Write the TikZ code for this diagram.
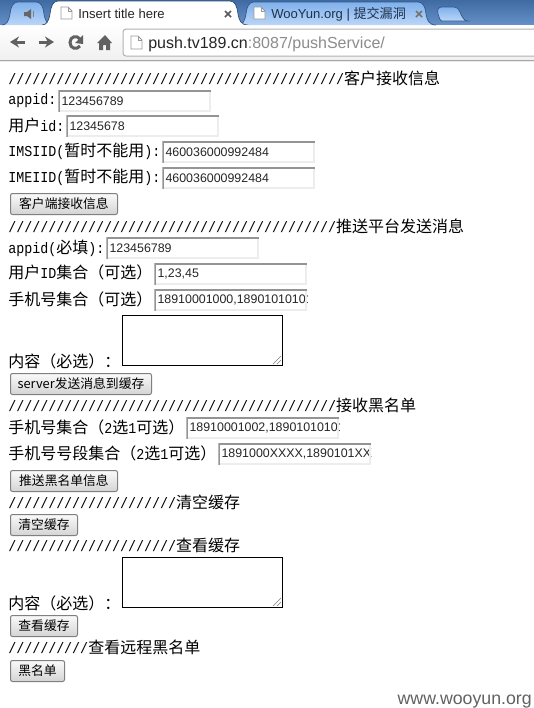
\documentclass[tikz,border=0pt]{standalone}
\usepackage{fontspec}
\setmainfont[FakeStretch=0.88]{Liberation Mono}
\newfontfamily\zhfam{Noto Sans CJK SC}
\newfontfamily\ui{Liberation Sans}
\newcommand{\zhtext}[1]{{\zhfam\fontsize{12}{14}\selectfont #1}}
\usetikzlibrary{arrows.meta,positioning}
\def\px{0.75pt}
\definecolor{stripblue}{HTML}{4A7DBF}
\definecolor{tabtop}{HTML}{7FB0EC}
\definecolor{tabbottom}{HTML}{BBD6F7}
\begin{document}
\begin{tikzpicture}[x=0.75pt,y=-0.75pt,
  lab/.style={anchor=base west,inner sep=0pt,font=\fontsize{11.36}{13}\selectfont},
  head/.style={lab},
  field/.style={anchor=north west,inner sep=0pt,minimum width=153*\px,minimum height=22*\px,fill=white,
    path picture={
      \node[anchor=west,inner sep=0pt,minimum width=0pt,minimum height=0pt,xshift=3*\px,font=\ui\fontsize{9.3}{11}\selectfont,text=black!85] (fieldtext) at (path picture bounding box.west) {#1};
      \draw[black!7,line width=2*\px] ([shift={(1,-1)}]path picture bounding box.south west) -- ([shift={(-1,-1)}]path picture bounding box.south east) -- ([shift={(-1,1)}]path picture bounding box.north east);
      \draw[black!42,line width=3.2*\px] (path picture bounding box.south west) -- (path picture bounding box.north west) -- (path picture bounding box.north east);}},
  area/.style={anchor=north west,draw=black,line width=1*\px,fill=white,inner sep=0pt,minimum width=160*\px,minimum height=50*\px},
  grip/.style={black!50,line width=0.6*\px},
  btn/.style={anchor=north west,draw=black!50,line width=1*\px,rounded corners=2*\px,inner sep=0pt,minimum height=21*\px,
    top color=black!2,bottom color=black!17,font=\zhfam\fontsize{9.6}{11}\selectfont},
  tabtext/.style={anchor=base west,inner sep=0pt,font=\ui\fontsize{9.8}{12}\selectfont},
  nav/.style={black!62,line width=3*\px},
  closex/.style={black!65,line width=1.6*\px},
  pageicon/.style={draw=black!40,fill=white,line width=0.8*\px},
  backtab/.style={stripblue!70!black,top color=tabtop,bottom color=tabbottom,line width=0.7*\px}]
\useasboundingbox (0,0) rectangle (534,708);
% browser frame
\shade[top color=stripblue!85!black,bottom color=stripblue!85] (0,0) rectangle (534,25);
\shade[top color=white,bottom color=black!6] (0,25) rectangle (534,60);
\draw[black!35,line width=1*\px] (0,60.5) -- (534,60.5);
\fill[black!8] (0,61) rectangle (534,62);
% tabs
\draw[backtab] (2,25) .. controls (7,25) and (9,20) .. (10,14) .. controls (11,6) and (13,2) .. (18,2) -- (36,2) .. controls (41,2) and (43,6) .. (44,14) .. controls (45,20) and (47,25) .. (52,25);
\draw[backtab] (238,25) .. controls (243,25) and (245,20) .. (246,14) .. controls (247,6) and (249,2) .. (254,2) -- (418,2) .. controls (423,2) and (425,6) .. (426,14) .. controls (427,20) and (429,25) .. (436,25);
\draw[backtab] (442,21) -- (468,21) .. controls (464,21) and (462,17) .. (460,12) .. controls (459,9) and (457,7) .. (454,7) -- (442,7) .. controls (438,7) and (437,10) .. (438,14) .. controls (439,17) and (440,21) .. (442,21);
\draw[stripblue!60!black,fill=white,line width=0.7*\px] (42,25) .. controls (47,25) and (49,20) .. (50,14) .. controls (51,6) and (53,1) .. (58,1) -- (230,1) .. controls (235,1) and (237,6) .. (238,14) .. controls (239,20) and (241,25) .. (248,25);
\fill[white] (42,25) rectangle (248,26);
% speaker on the first tab
\fill[black!60] (24,12) -- (27,12) -- (31,9) -- (31,19) -- (27,16) -- (24,16) -- cycle;
\draw[black!50,line width=0.8*\px] (33,11) -- (33,17);
% page icons and tab titles
\draw[pageicon] (61,7) -- (68,7) -- (72,11) -- (72,19) -- (61,19) -- cycle;
\draw[black!40,line width=0.8*\px] (68,7) -- (68,11) -- (72,11);
\node[tabtext,text=black!85] (title) at (78,18) {Insert title here};
\draw[closex] (225,11) -- (231,17) (231,11) -- (225,17);
\draw[pageicon] (254,7) -- (261,7) -- (265,11) -- (265,19) -- (254,19) -- cycle;
\draw[black!40,line width=0.8*\px] (261,7) -- (261,11) -- (265,11);
\begin{scope}
\clip (270,0) rectangle (408,25);
\node[tabtext,text=black!60!stripblue] (other) at (271,18) {WooYun.org | {\zhfam 提交漏洞}};
\end{scope}
\draw[closex,black!55] (416,11) -- (422,17) (422,11) -- (416,17);
% toolbar
\draw[nav,-{Stealth[length=9*\px,width=11*\px]}] (25,42) -- (10,42);
\draw[nav,-{Stealth[length=9*\px,width=11*\px]}] (39,42) -- (54,42);
\draw[nav] (80,46) .. controls (77,50) and (70,49) .. (70,42.5) .. controls (70,36) and (77,35) .. (80,39);
\fill[black!62] (83,35) -- (83,44) -- (75,43) -- cycle;
\fill[black!62] (105,35) -- (112,43) -- (110,43) -- (110,50) -- (106,50) -- (106,45) -- (103,45) -- (103,50) -- (99,50) -- (99,43) -- (97,43) -- cycle;
\draw[black!30,fill=white,rounded corners=3*\px,line width=1*\px] (123,29) rectangle (540,56);
\draw[pageicon] (131,36) -- (138,36) -- (142,40) -- (142,49) -- (131,49) -- cycle;
\draw[black!40,line width=0.8*\px] (138,36) -- (138,40) -- (142,40);
\node[anchor=base west,inner sep=0pt,font=\ui\fontsize{12}{15}\selectfont,text=black!85] (addr) at (148,48) {push.tv189.cn\textcolor{black!45}{:8087/pushService/}};
% first form
\node[head] (h1) at (8,84) {//////////////////////////////////////////\zhtext{客户接收信息}};
\node[lab] (l1) at (8,104) {appid:};
\node[field=123456789] (f1) at (58,90) {};
\node[lab] (l2) at (8,131) {\zhtext{用户}id:};
\node[field=12345678] (f2) at (66,115) {};
\node[lab] (l3) at (8,156) {IMSIID(\zhtext{暂时不能用}):};
\node[field=460036000992484] (f3) at (162,141) {};
\node[lab] (l4) at (8,182) {IMEIID(\zhtext{暂时不能用}):};
\node[field=460036000992484] (f4) at (162,167) {};
\node[btn,minimum width=107*\px] (b1) at (10,193) {客户端接收信息};
% second form
\node[head] (h2) at (8,232) {/////////////////////////////////////////\zhtext{推送平台发送消息}};
\node[lab] (l5) at (8,253) {appid(\zhtext{必填}):};
\node[field=123456789] (f5) at (106,237) {};
\node[lab] (l6) at (8,278) {\zhtext{用户}ID\zhtext{集合（可选）}};
\node[field={1,23,45}] (f6) at (154,263) {};
\node[lab] (l7) at (8,305) {\zhtext{手机号集合（可选）}};
\node[field={18910001000,18901010101}] (f7) at (154,289) {};
\node[area] (ta1) at (122,315) {};
\draw[grip] ([shift={(-10,-2)}]ta1.south east) -- ([shift={(-2,-10)}]ta1.south east) ([shift={(-6,-2)}]ta1.south east) -- ([shift={(-2,-6)}]ta1.south east);
\node[lab] (l8) at (8,367) {\zhtext{内容（必选）：}};
\node[btn,minimum width=141*\px] (b2) at (10,373) {server发送消息到缓存};
% third form
\node[head] (h3) at (8,411) {/////////////////////////////////////////\zhtext{接收黑名单}};
\node[lab] (l9) at (8,433) {\zhtext{手机号集合（}2\zhtext{选}1\zhtext{可选）}};
\node[field={18910001002,18901010101}] (f8) at (186,417) {};
\node[lab] (l10) at (8,459) {\zhtext{手机号号段集合（}2\zhtext{选}1\zhtext{可选）}};
\node[field={1891000XXXX,1890101XXXX}] (f9) at (218,443) {};
\node[btn,minimum width=107*\px] (b3) at (10,470) {推送黑名单信息};
% cache forms
\node[head] (h4) at (8,508) {/////////////////////\zhtext{清空缓存}};
\node[btn,minimum width=67*\px] (b4) at (10,514) {清空缓存};
\node[head] (h5) at (8,551) {/////////////////////\zhtext{查看缓存}};
\node[area] (ta2) at (122,557) {};
\draw[grip] ([shift={(-10,-2)}]ta2.south east) -- ([shift={(-2,-10)}]ta2.south east) ([shift={(-6,-2)}]ta2.south east) -- ([shift={(-2,-6)}]ta2.south east);
\node[lab] (l11) at (8,609) {\zhtext{内容（必选）：}};
\node[btn,minimum width=67*\px] (b5) at (10,615) {查看缓存};
\node[head] (h6) at (8,653) {//////////\zhtext{查看远程黑名单}};
\node[btn,minimum width=54*\px] (b6) at (10,660) {黑名单};
% watermark
\node[anchor=base east,inner sep=0pt,font=\ui\fontsize{13.3}{15}\selectfont,text=black!62] (wm) at (532,704) {www.wooyun.org};
\end{tikzpicture}
\end{document}
